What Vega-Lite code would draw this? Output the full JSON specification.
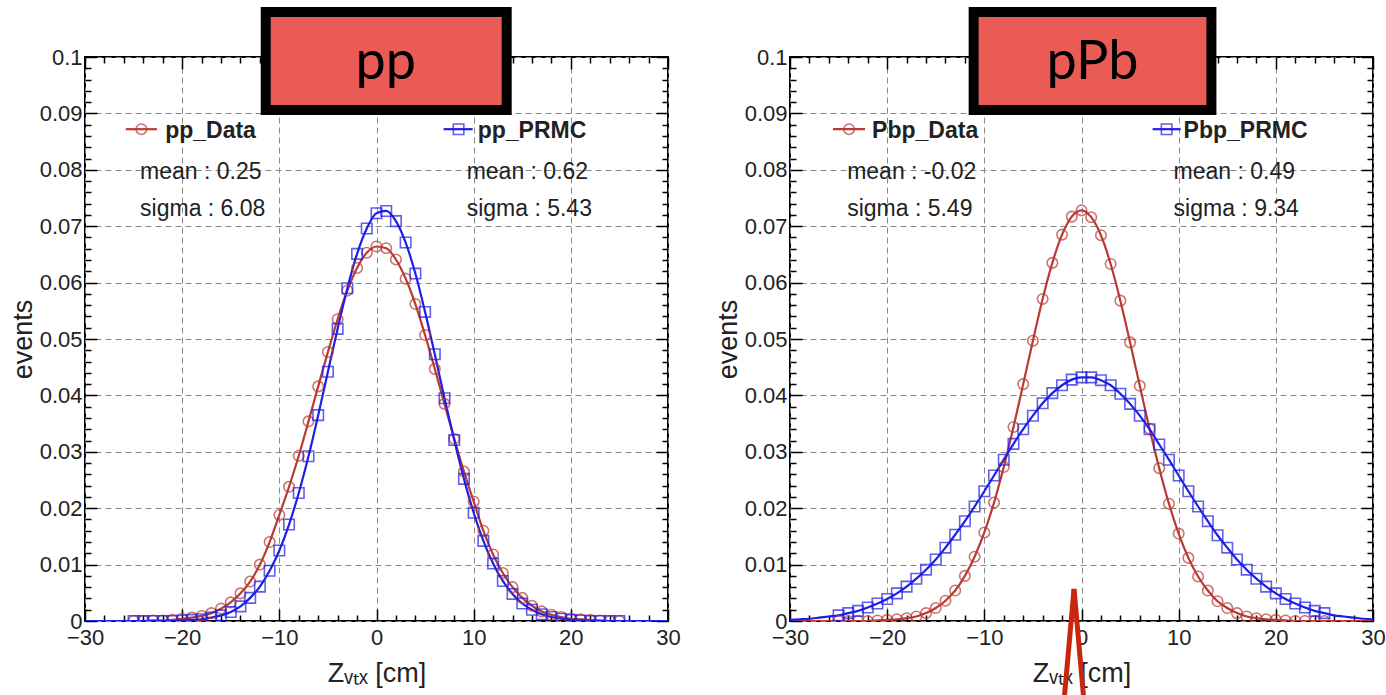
{
  "$schema": "https://vega.github.io/schema/vega-lite/v6.json",
  "padding": {"left": 8, "top": 5, "right": 5, "bottom": 0},
  "background": "white",
  "config": {"view": {"stroke": "black", "strokeWidth": 2}, "font": "Liberation Sans"},
  "spacing": 31,
  "datasets": {
    "pp": [
      {"s":"pp_Data","x":-30,"y":0},{"s":"pp_Data","x":-29,"y":0},{"s":"pp_Data","x":-28,"y":0},{"s":"pp_Data","x":-27,"y":0},{"s":"pp_Data","x":-26,"y":0},{"s":"pp_Data","x":-25,"y":0},{"s":"pp_Data","x":-24,"y":0},{"s":"pp_Data","x":-23,"y":0.0001},{"s":"pp_Data","x":-22,"y":0.0001},{"s":"pp_Data","x":-21,"y":0.0002},{"s":"pp_Data","x":-20,"y":0.0004},{"s":"pp_Data","x":-19,"y":0.0006},{"s":"pp_Data","x":-18,"y":0.0009},{"s":"pp_Data","x":-17,"y":0.0014},{"s":"pp_Data","x":-16,"y":0.0022},{"s":"pp_Data","x":-15,"y":0.0033},{"s":"pp_Data","x":-14,"y":0.0049},{"s":"pp_Data","x":-13,"y":0.0070},{"s":"pp_Data","x":-12,"y":0.0100},{"s":"pp_Data","x":-11,"y":0.0140},{"s":"pp_Data","x":-10,"y":0.0188},{"s":"pp_Data","x":-9,"y":0.0238},{"s":"pp_Data","x":-8,"y":0.0293},{"s":"pp_Data","x":-7,"y":0.0354},{"s":"pp_Data","x":-6,"y":0.0416},{"s":"pp_Data","x":-5,"y":0.0477},{"s":"pp_Data","x":-4,"y":0.0535},{"s":"pp_Data","x":-3,"y":0.0586},{"s":"pp_Data","x":-2,"y":0.0626},{"s":"pp_Data","x":-1,"y":0.0653},{"s":"pp_Data","x":0,"y":0.0664},{"s":"pp_Data","x":1,"y":0.0661},{"s":"pp_Data","x":2,"y":0.0641},{"s":"pp_Data","x":3,"y":0.0607},{"s":"pp_Data","x":4,"y":0.0562},{"s":"pp_Data","x":5,"y":0.0507},{"s":"pp_Data","x":6,"y":0.0447},{"s":"pp_Data","x":7,"y":0.0385},{"s":"pp_Data","x":8,"y":0.0323},{"s":"pp_Data","x":9,"y":0.0265},{"s":"pp_Data","x":10,"y":0.0212},{"s":"pp_Data","x":11,"y":0.0160},{"s":"pp_Data","x":12,"y":0.0118},{"s":"pp_Data","x":13,"y":0.0085},{"s":"pp_Data","x":14,"y":0.0060},{"s":"pp_Data","x":15,"y":0.0041},{"s":"pp_Data","x":16,"y":0.0027},{"s":"pp_Data","x":17,"y":0.0017},{"s":"pp_Data","x":18,"y":0.0011},{"s":"pp_Data","x":19,"y":0.0007},{"s":"pp_Data","x":20,"y":0.0004},{"s":"pp_Data","x":21,"y":0.0003},{"s":"pp_Data","x":22,"y":0.0002},{"s":"pp_Data","x":23,"y":0.0001},{"s":"pp_Data","x":24,"y":0},{"s":"pp_Data","x":25,"y":0},{"s":"pp_Data","x":26,"y":0},{"s":"pp_Data","x":27,"y":0},{"s":"pp_Data","x":28,"y":0},{"s":"pp_Data","x":29,"y":0},{"s":"pp_Data","x":30,"y":0},
      {"s":"pp_PRMC","x":-30,"y":0},{"s":"pp_PRMC","x":-29,"y":0},{"s":"pp_PRMC","x":-28,"y":0},{"s":"pp_PRMC","x":-27,"y":0},{"s":"pp_PRMC","x":-26,"y":0},{"s":"pp_PRMC","x":-25,"y":0},{"s":"pp_PRMC","x":-24,"y":0},{"s":"pp_PRMC","x":-23,"y":0},{"s":"pp_PRMC","x":-22,"y":0},{"s":"pp_PRMC","x":-21,"y":0},{"s":"pp_PRMC","x":-20,"y":0.0001},{"s":"pp_PRMC","x":-19,"y":0.0002},{"s":"pp_PRMC","x":-18,"y":0.0003},{"s":"pp_PRMC","x":-17,"y":0.0006},{"s":"pp_PRMC","x":-16,"y":0.0010},{"s":"pp_PRMC","x":-15,"y":0.0016},{"s":"pp_PRMC","x":-14,"y":0.0026},{"s":"pp_PRMC","x":-13,"y":0.0041},{"s":"pp_PRMC","x":-12,"y":0.0061},{"s":"pp_PRMC","x":-11,"y":0.0089},{"s":"pp_PRMC","x":-10,"y":0.0125},{"s":"pp_PRMC","x":-9,"y":0.0171},{"s":"pp_PRMC","x":-8,"y":0.0227},{"s":"pp_PRMC","x":-7,"y":0.0292},{"s":"pp_PRMC","x":-6,"y":0.0365},{"s":"pp_PRMC","x":-5,"y":0.0442},{"s":"pp_PRMC","x":-4,"y":0.0518},{"s":"pp_PRMC","x":-3,"y":0.0590},{"s":"pp_PRMC","x":-2,"y":0.0651},{"s":"pp_PRMC","x":-1,"y":0.0696},{"s":"pp_PRMC","x":0,"y":0.0723},{"s":"pp_PRMC","x":1,"y":0.0727},{"s":"pp_PRMC","x":2,"y":0.0709},{"s":"pp_PRMC","x":3,"y":0.0671},{"s":"pp_PRMC","x":4,"y":0.0616},{"s":"pp_PRMC","x":5,"y":0.0548},{"s":"pp_PRMC","x":6,"y":0.0473},{"s":"pp_PRMC","x":7,"y":0.0395},{"s":"pp_PRMC","x":8,"y":0.0321},{"s":"pp_PRMC","x":9,"y":0.0252},{"s":"pp_PRMC","x":10,"y":0.0192},{"s":"pp_PRMC","x":11,"y":0.0142},{"s":"pp_PRMC","x":12,"y":0.0102},{"s":"pp_PRMC","x":13,"y":0.0071},{"s":"pp_PRMC","x":14,"y":0.0048},{"s":"pp_PRMC","x":15,"y":0.0031},{"s":"pp_PRMC","x":16,"y":0.0020},{"s":"pp_PRMC","x":17,"y":0.0012},{"s":"pp_PRMC","x":18,"y":0.0007},{"s":"pp_PRMC","x":19,"y":0.0004},{"s":"pp_PRMC","x":20,"y":0.0002},{"s":"pp_PRMC","x":21,"y":0.0001},{"s":"pp_PRMC","x":22,"y":0},{"s":"pp_PRMC","x":23,"y":0},{"s":"pp_PRMC","x":24,"y":0},{"s":"pp_PRMC","x":25,"y":0},{"s":"pp_PRMC","x":26,"y":0},{"s":"pp_PRMC","x":27,"y":0},{"s":"pp_PRMC","x":28,"y":0},{"s":"pp_PRMC","x":29,"y":0},{"s":"pp_PRMC","x":30,"y":0}
    ],
    "ppb": [
      {"s":"Pbp_Data","x":-30,"y":0},{"s":"Pbp_Data","x":-29,"y":0},{"s":"Pbp_Data","x":-28,"y":0},{"s":"Pbp_Data","x":-27,"y":0},{"s":"Pbp_Data","x":-26,"y":0},{"s":"Pbp_Data","x":-25,"y":0},{"s":"Pbp_Data","x":-24,"y":0},{"s":"Pbp_Data","x":-23,"y":0},{"s":"Pbp_Data","x":-22,"y":0},{"s":"Pbp_Data","x":-21,"y":0.0001},{"s":"Pbp_Data","x":-20,"y":0.0002},{"s":"Pbp_Data","x":-19,"y":0.0003},{"s":"Pbp_Data","x":-18,"y":0.0005},{"s":"Pbp_Data","x":-17,"y":0.0008},{"s":"Pbp_Data","x":-16,"y":0.0014},{"s":"Pbp_Data","x":-15,"y":0.0023},{"s":"Pbp_Data","x":-14,"y":0.0036},{"s":"Pbp_Data","x":-13,"y":0.0054},{"s":"Pbp_Data","x":-12,"y":0.0080},{"s":"Pbp_Data","x":-11,"y":0.0114},{"s":"Pbp_Data","x":-10,"y":0.0157},{"s":"Pbp_Data","x":-9,"y":0.0210},{"s":"Pbp_Data","x":-8,"y":0.0273},{"s":"Pbp_Data","x":-7,"y":0.0344},{"s":"Pbp_Data","x":-6,"y":0.0420},{"s":"Pbp_Data","x":-5,"y":0.0497},{"s":"Pbp_Data","x":-4,"y":0.0571},{"s":"Pbp_Data","x":-3,"y":0.0635},{"s":"Pbp_Data","x":-2,"y":0.0685},{"s":"Pbp_Data","x":-1,"y":0.0717},{"s":"Pbp_Data","x":0,"y":0.0728},{"s":"Pbp_Data","x":1,"y":0.0716},{"s":"Pbp_Data","x":2,"y":0.0684},{"s":"Pbp_Data","x":3,"y":0.0633},{"s":"Pbp_Data","x":4,"y":0.0568},{"s":"Pbp_Data","x":5,"y":0.0494},{"s":"Pbp_Data","x":6,"y":0.0417},{"s":"Pbp_Data","x":7,"y":0.0341},{"s":"Pbp_Data","x":8,"y":0.0271},{"s":"Pbp_Data","x":9,"y":0.0208},{"s":"Pbp_Data","x":10,"y":0.0155},{"s":"Pbp_Data","x":11,"y":0.0112},{"s":"Pbp_Data","x":12,"y":0.0079},{"s":"Pbp_Data","x":13,"y":0.0054},{"s":"Pbp_Data","x":14,"y":0.0035},{"s":"Pbp_Data","x":15,"y":0.0023},{"s":"Pbp_Data","x":16,"y":0.0014},{"s":"Pbp_Data","x":17,"y":0.0008},{"s":"Pbp_Data","x":18,"y":0.0005},{"s":"Pbp_Data","x":19,"y":0.0003},{"s":"Pbp_Data","x":20,"y":0.0002},{"s":"Pbp_Data","x":21,"y":0.0001},{"s":"Pbp_Data","x":22,"y":0},{"s":"Pbp_Data","x":23,"y":0},{"s":"Pbp_Data","x":24,"y":0},{"s":"Pbp_Data","x":25,"y":0},{"s":"Pbp_Data","x":26,"y":0},{"s":"Pbp_Data","x":27,"y":0},{"s":"Pbp_Data","x":28,"y":0},{"s":"Pbp_Data","x":29,"y":0},{"s":"Pbp_Data","x":30,"y":0},
      {"s":"Pbp_PRMC","x":-30,"y":0.0002},{"s":"Pbp_PRMC","x":-29,"y":0.0003},{"s":"Pbp_PRMC","x":-28,"y":0.0004},{"s":"Pbp_PRMC","x":-27,"y":0.0006},{"s":"Pbp_PRMC","x":-26,"y":0.0008},{"s":"Pbp_PRMC","x":-25,"y":0.0010},{"s":"Pbp_PRMC","x":-24,"y":0.0014},{"s":"Pbp_PRMC","x":-23,"y":0.0018},{"s":"Pbp_PRMC","x":-22,"y":0.0024},{"s":"Pbp_PRMC","x":-21,"y":0.0031},{"s":"Pbp_PRMC","x":-20,"y":0.0039},{"s":"Pbp_PRMC","x":-19,"y":0.0049},{"s":"Pbp_PRMC","x":-18,"y":0.0061},{"s":"Pbp_PRMC","x":-17,"y":0.0075},{"s":"Pbp_PRMC","x":-16,"y":0.0091},{"s":"Pbp_PRMC","x":-15,"y":0.0109},{"s":"Pbp_PRMC","x":-14,"y":0.0130},{"s":"Pbp_PRMC","x":-13,"y":0.0153},{"s":"Pbp_PRMC","x":-12,"y":0.0177},{"s":"Pbp_PRMC","x":-11,"y":0.0203},{"s":"Pbp_PRMC","x":-10,"y":0.0230},{"s":"Pbp_PRMC","x":-9,"y":0.0258},{"s":"Pbp_PRMC","x":-8,"y":0.0286},{"s":"Pbp_PRMC","x":-7,"y":0.0314},{"s":"Pbp_PRMC","x":-6,"y":0.0340},{"s":"Pbp_PRMC","x":-5,"y":0.0364},{"s":"Pbp_PRMC","x":-4,"y":0.0386},{"s":"Pbp_PRMC","x":-3,"y":0.0404},{"s":"Pbp_PRMC","x":-2,"y":0.0418},{"s":"Pbp_PRMC","x":-1,"y":0.0428},{"s":"Pbp_PRMC","x":0,"y":0.0432},{"s":"Pbp_PRMC","x":1,"y":0.0432},{"s":"Pbp_PRMC","x":2,"y":0.0427},{"s":"Pbp_PRMC","x":3,"y":0.0418},{"s":"Pbp_PRMC","x":4,"y":0.0403},{"s":"Pbp_PRMC","x":5,"y":0.0385},{"s":"Pbp_PRMC","x":6,"y":0.0364},{"s":"Pbp_PRMC","x":7,"y":0.0340},{"s":"Pbp_PRMC","x":8,"y":0.0313},{"s":"Pbp_PRMC","x":9,"y":0.0286},{"s":"Pbp_PRMC","x":10,"y":0.0258},{"s":"Pbp_PRMC","x":11,"y":0.0230},{"s":"Pbp_PRMC","x":12,"y":0.0203},{"s":"Pbp_PRMC","x":13,"y":0.0177},{"s":"Pbp_PRMC","x":14,"y":0.0152},{"s":"Pbp_PRMC","x":15,"y":0.0130},{"s":"Pbp_PRMC","x":16,"y":0.0109},{"s":"Pbp_PRMC","x":17,"y":0.0091},{"s":"Pbp_PRMC","x":18,"y":0.0075},{"s":"Pbp_PRMC","x":19,"y":0.0061},{"s":"Pbp_PRMC","x":20,"y":0.0049},{"s":"Pbp_PRMC","x":21,"y":0.0039},{"s":"Pbp_PRMC","x":22,"y":0.0031},{"s":"Pbp_PRMC","x":23,"y":0.0024},{"s":"Pbp_PRMC","x":24,"y":0.0018},{"s":"Pbp_PRMC","x":25,"y":0.0014},{"s":"Pbp_PRMC","x":26,"y":0.0010},{"s":"Pbp_PRMC","x":27,"y":0.0008},{"s":"Pbp_PRMC","x":28,"y":0.0006},{"s":"Pbp_PRMC","x":29,"y":0.0004},{"s":"Pbp_PRMC","x":30,"y":0.0003}
    ]
  },
  "hconcat": [
    {
      "width": 583, "height": 564,
      "data": {"name": "pp"},
      "layer": [
        {
          "mark": {"type": "line", "interpolate": "monotone", "strokeWidth": 2.2, "clip": true},
          "encoding": {
            "x": {"field": "x", "type": "quantitative", "scale": {"domain": [-30, 30], "nice": false, "zero": false},
              "axis": {"orient": "bottom", "values": [-30,-28,-26,-24,-22,-20,-18,-16,-14,-12,-10,-8,-6,-4,-2,0,2,4,6,8,10,12,14,16,18,20,22,24,26,28,30],
                "labelExpr": "datum.value % 10 === 0 ? format(datum.value, 'd') : ''",
                "tickSize": {"condition": {"test": "datum.value % 10 === 0", "value": -12}, "value": -6},
                "tickColor": "black", "tickWidth": 1.5, "domain": false,
                "grid": true, "gridColor": "#888888", "gridDash": [6, 4], "gridWidth": 1,
                "gridOpacity": {"condition": {"test": "datum.value % 10 === 0", "value": 1}, "value": 0},
                "labelOverlap": false, "labelFlush": false, "labelBound": false,
                "labelFont": "Liberation Sans", "labelFontSize": 22, "labelColor": "#222222", "labelPadding": 18,
                "title": "Zᵥₜₓ [cm]", "titleFont": "Liberation Sans", "titleFontSize": 27, "titleFontWeight": "normal", "titleColor": "#222222", "titlePadding": 6}},
            "y": {"field": "y", "type": "quantitative", "scale": {"domain": [0, 0.1], "nice": false, "zero": false},
              "axis": {"orient": "left", "values": [0,0.002,0.004,0.006,0.008,0.01,0.012,0.014,0.016,0.018,0.02,0.022,0.024,0.026,0.028,0.03,0.032,0.034,0.036,0.038,0.04,0.042,0.044,0.046,0.048,0.05,0.052,0.054,0.056,0.058,0.06,0.062,0.064,0.066,0.068,0.07,0.072,0.074,0.076,0.078,0.08,0.082,0.084,0.086,0.088,0.09,0.092,0.094,0.096,0.098,0.1],
                "labelExpr": "abs(datum.value*100 - round(datum.value*100)) < 0.0001 ? format(datum.value, '~g') : ''",
                "tickSize": {"condition": {"test": "abs(datum.value*100 - round(datum.value*100)) < 0.0001", "value": -12}, "value": -6},
                "tickColor": "black", "tickWidth": 1.5, "domain": false,
                "grid": true, "gridColor": "#888888", "gridDash": [6, 4], "gridWidth": 1,
                "gridOpacity": {"condition": {"test": "abs(datum.value*100 - round(datum.value*100)) < 0.0001", "value": 1}, "value": 0},
                "labelOverlap": false, "labelFlush": false, "labelBound": false,
                "labelFont": "Liberation Sans", "labelFontSize": 22, "labelColor": "#222222", "labelPadding": 15,
                "title": "events", "titleFont": "Liberation Sans", "titleFontSize": 27, "titleFontWeight": "normal", "titleColor": "#222222", "titlePadding": 2}},
            "color": {"field": "s", "type": "nominal", "scale": {"domain": ["pp_Data", "pp_PRMC", "Pbp_Data", "Pbp_PRMC"], "range": ["#B83A33", "#1E1EE6", "#B83A33", "#1E1EE6"]}, "legend": null}
          }
        },
        {
          "transform": [{"filter": "abs(datum.x) <= 25"}],
          "mark": {"type": "point", "filled": false, "strokeWidth": 1.6, "size": 110, "clip": true},
          "encoding": {
            "x": {"field": "x", "type": "quantitative", "scale": {"domain": [-30, 30], "nice": false, "zero": false},
              "axis": {"orient": "top", "values": [-30,-28,-26,-24,-22,-20,-18,-16,-14,-12,-10,-8,-6,-4,-2,0,2,4,6,8,10,12,14,16,18,20,22,24,26,28,30], "labels": false, "title": null, "grid": false, "domain": false,
                "tickSize": {"condition": {"test": "datum.value % 10 === 0", "value": -12}, "value": -6}, "tickColor": "black", "tickWidth": 1.5}},
            "y": {"field": "y", "type": "quantitative", "scale": {"domain": [0, 0.1], "nice": false, "zero": false},
              "axis": {"orient": "right", "values": [0,0.002,0.004,0.006,0.008,0.01,0.012,0.014,0.016,0.018,0.02,0.022,0.024,0.026,0.028,0.03,0.032,0.034,0.036,0.038,0.04,0.042,0.044,0.046,0.048,0.05,0.052,0.054,0.056,0.058,0.06,0.062,0.064,0.066,0.068,0.07,0.072,0.074,0.076,0.078,0.08,0.082,0.084,0.086,0.088,0.09,0.092,0.094,0.096,0.098,0.1], "labels": false, "title": null, "grid": false, "domain": false,
                "tickSize": {"condition": {"test": "abs(datum.value*100 - round(datum.value*100)) < 0.0001", "value": -12}, "value": -6}, "tickColor": "black", "tickWidth": 1.5}},
            "color": {"field": "s", "type": "nominal", "scale": {"domain": ["pp_Data", "pp_PRMC", "Pbp_Data", "Pbp_PRMC"], "range": ["#B83A33", "#1E1EE6", "#B83A33", "#1E1EE6"]}, "legend": null},
            "shape": {"field": "s", "type": "nominal", "scale": {"domain": ["pp_Data", "pp_PRMC", "Pbp_Data", "Pbp_PRMC"], "range": ["circle", "square", "circle", "square"]}, "legend": null}
          }
        },
        {"data": {"values": [{}]}, "mark": {"type": "rule", "color": "#B83A33", "strokeWidth": 2.2},
          "encoding": {"x": {"datum": -25.8, "type": "quantitative", "axis": null}, "x2": {"datum": -22.6}, "y": {"datum": 0.0872, "type": "quantitative", "axis": null}}},
        {"data": {"values": [{}]}, "mark": {"type": "point", "shape": "circle", "filled": false, "color": "#B83A33", "strokeWidth": 1.6, "size": 110},
          "encoding": {"x": {"datum": -24.2, "type": "quantitative", "axis": null}, "y": {"datum": 0.0872, "type": "quantitative", "axis": null}}},
        {"data": {"values": [{}]}, "mark": {"type": "text", "text": "pp_Data", "align": "left", "baseline": "alphabetic", "font": "Liberation Sans", "fontSize": 23, "fontWeight": "bold", "color": "#222222"},
          "encoding": {"x": {"datum": -21.75, "type": "quantitative", "axis": null}, "y": {"datum": 0.0857, "type": "quantitative", "axis": null}}},
        {"data": {"values": [{}]}, "mark": {"type": "text", "text": ["mean : 0.25", "sigma : 6.08"], "lineHeight": 37, "align": "left", "baseline": "alphabetic", "font": "Liberation Sans", "fontSize": 23, "color": "#222222"},
          "encoding": {"x": {"datum": -24.33, "type": "quantitative", "axis": null}, "y": {"datum": 0.0783, "type": "quantitative", "axis": null}}},
        {"data": {"values": [{}]}, "mark": {"type": "rule", "color": "#1E1EE6", "strokeWidth": 2.2},
          "encoding": {"x": {"datum": 6.9, "type": "quantitative", "axis": null}, "x2": {"datum": 9.9}, "y": {"datum": 0.0872, "type": "quantitative", "axis": null}}},
        {"data": {"values": [{}]}, "mark": {"type": "point", "shape": "square", "filled": false, "color": "#1E1EE6", "strokeWidth": 1.6, "size": 110},
          "encoding": {"x": {"datum": 8.45, "type": "quantitative", "axis": null}, "y": {"datum": 0.0872, "type": "quantitative", "axis": null}}},
        {"data": {"values": [{}]}, "mark": {"type": "text", "text": "pp_PRMC", "align": "left", "baseline": "alphabetic", "font": "Liberation Sans", "fontSize": 23, "fontWeight": "bold", "color": "#222222"},
          "encoding": {"x": {"datum": 10.41, "type": "quantitative", "axis": null}, "y": {"datum": 0.0857, "type": "quantitative", "axis": null}}},
        {"data": {"values": [{}]}, "mark": {"type": "text", "text": ["mean : 0.62", "sigma : 5.43"], "lineHeight": 37, "align": "left", "baseline": "alphabetic", "font": "Liberation Sans", "fontSize": 23, "color": "#222222"},
          "encoding": {"x": {"datum": 9.28, "type": "quantitative", "axis": null}, "y": {"datum": 0.0783, "type": "quantitative", "axis": null}}},
        {"data": {"values": [{}]}, "mark": {"type": "rect", "fill": "#EB5B56", "stroke": "black", "strokeWidth": 10, "clip": false},
          "encoding": {"x": {"datum": -11.4, "type": "quantitative", "axis": null}, "x2": {"datum": 13.4}, "y": {"datum": 0.10798, "type": "quantitative", "axis": null}, "y2": {"datum": 0.0906}}},
        {"data": {"values": [{}]}, "mark": {"type": "text", "text": "pp", "align": "center", "baseline": "alphabetic", "font": "Lato", "fontSize": 54, "color": "black"},
          "encoding": {"x": {"datum": 0.95, "type": "quantitative", "axis": null}, "y": {"datum": 0.0961, "type": "quantitative", "axis": null}}}
      ],
      "resolve": {"axis": {"x": "independent", "y": "independent"}}
    },
    {
      "width": 583, "height": 564,
      "data": {"name": "ppb"},
      "layer": [
        {
          "mark": {"type": "line", "interpolate": "monotone", "strokeWidth": 2.2, "clip": true},
          "encoding": {
            "x": {"field": "x", "type": "quantitative", "scale": {"domain": [-30, 30], "nice": false, "zero": false},
              "axis": {"orient": "bottom", "values": [-30,-28,-26,-24,-22,-20,-18,-16,-14,-12,-10,-8,-6,-4,-2,0,2,4,6,8,10,12,14,16,18,20,22,24,26,28,30],
                "labelExpr": "datum.value % 10 === 0 ? format(datum.value, 'd') : ''",
                "tickSize": {"condition": {"test": "datum.value % 10 === 0", "value": -12}, "value": -6},
                "tickColor": "black", "tickWidth": 1.5, "domain": false,
                "grid": true, "gridColor": "#888888", "gridDash": [6, 4], "gridWidth": 1,
                "gridOpacity": {"condition": {"test": "datum.value % 10 === 0", "value": 1}, "value": 0},
                "labelOverlap": false, "labelFlush": false, "labelBound": false,
                "labelFont": "Liberation Sans", "labelFontSize": 22, "labelColor": "#222222", "labelPadding": 18,
                "title": "Zᵥₜₓ [cm]", "titleFont": "Liberation Sans", "titleFontSize": 27, "titleFontWeight": "normal", "titleColor": "#222222", "titlePadding": 6}},
            "y": {"field": "y", "type": "quantitative", "scale": {"domain": [0, 0.1], "nice": false, "zero": false},
              "axis": {"orient": "left", "values": [0,0.002,0.004,0.006,0.008,0.01,0.012,0.014,0.016,0.018,0.02,0.022,0.024,0.026,0.028,0.03,0.032,0.034,0.036,0.038,0.04,0.042,0.044,0.046,0.048,0.05,0.052,0.054,0.056,0.058,0.06,0.062,0.064,0.066,0.068,0.07,0.072,0.074,0.076,0.078,0.08,0.082,0.084,0.086,0.088,0.09,0.092,0.094,0.096,0.098,0.1],
                "labelExpr": "abs(datum.value*100 - round(datum.value*100)) < 0.0001 ? format(datum.value, '~g') : ''",
                "tickSize": {"condition": {"test": "abs(datum.value*100 - round(datum.value*100)) < 0.0001", "value": -12}, "value": -6},
                "tickColor": "black", "tickWidth": 1.5, "domain": false,
                "grid": true, "gridColor": "#888888", "gridDash": [6, 4], "gridWidth": 1,
                "gridOpacity": {"condition": {"test": "abs(datum.value*100 - round(datum.value*100)) < 0.0001", "value": 1}, "value": 0},
                "labelOverlap": false, "labelFlush": false, "labelBound": false,
                "labelFont": "Liberation Sans", "labelFontSize": 22, "labelColor": "#222222", "labelPadding": 15,
                "title": "events", "titleFont": "Liberation Sans", "titleFontSize": 27, "titleFontWeight": "normal", "titleColor": "#222222", "titlePadding": 2}},
            "color": {"field": "s", "type": "nominal", "scale": {"domain": ["pp_Data", "pp_PRMC", "Pbp_Data", "Pbp_PRMC"], "range": ["#B83A33", "#1E1EE6", "#B83A33", "#1E1EE6"]}, "legend": null}
          }
        },
        {
          "transform": [{"filter": "abs(datum.x) <= 25"}],
          "mark": {"type": "point", "filled": false, "strokeWidth": 1.6, "size": 110, "clip": true},
          "encoding": {
            "x": {"field": "x", "type": "quantitative", "scale": {"domain": [-30, 30], "nice": false, "zero": false},
              "axis": {"orient": "top", "values": [-30,-28,-26,-24,-22,-20,-18,-16,-14,-12,-10,-8,-6,-4,-2,0,2,4,6,8,10,12,14,16,18,20,22,24,26,28,30], "labels": false, "title": null, "grid": false, "domain": false,
                "tickSize": {"condition": {"test": "datum.value % 10 === 0", "value": -12}, "value": -6}, "tickColor": "black", "tickWidth": 1.5}},
            "y": {"field": "y", "type": "quantitative", "scale": {"domain": [0, 0.1], "nice": false, "zero": false},
              "axis": {"orient": "right", "values": [0,0.002,0.004,0.006,0.008,0.01,0.012,0.014,0.016,0.018,0.02,0.022,0.024,0.026,0.028,0.03,0.032,0.034,0.036,0.038,0.04,0.042,0.044,0.046,0.048,0.05,0.052,0.054,0.056,0.058,0.06,0.062,0.064,0.066,0.068,0.07,0.072,0.074,0.076,0.078,0.08,0.082,0.084,0.086,0.088,0.09,0.092,0.094,0.096,0.098,0.1], "labels": false, "title": null, "grid": false, "domain": false,
                "tickSize": {"condition": {"test": "abs(datum.value*100 - round(datum.value*100)) < 0.0001", "value": -12}, "value": -6}, "tickColor": "black", "tickWidth": 1.5}},
            "color": {"field": "s", "type": "nominal", "scale": {"domain": ["pp_Data", "pp_PRMC", "Pbp_Data", "Pbp_PRMC"], "range": ["#B83A33", "#1E1EE6", "#B83A33", "#1E1EE6"]}, "legend": null},
            "shape": {"field": "s", "type": "nominal", "scale": {"domain": ["pp_Data", "pp_PRMC", "Pbp_Data", "Pbp_PRMC"], "range": ["circle", "square", "circle", "square"]}, "legend": null}
          }
        },
        {"data": {"values": [{}]}, "mark": {"type": "rule", "color": "#B83A33", "strokeWidth": 2.2},
          "encoding": {"x": {"datum": -25.57, "type": "quantitative", "axis": null}, "x2": {"datum": -22.27}, "y": {"datum": 0.0872, "type": "quantitative", "axis": null}}},
        {"data": {"values": [{}]}, "mark": {"type": "point", "shape": "circle", "filled": false, "color": "#B83A33", "strokeWidth": 1.6, "size": 110},
          "encoding": {"x": {"datum": -23.92, "type": "quantitative", "axis": null}, "y": {"datum": 0.0872, "type": "quantitative", "axis": null}}},
        {"data": {"values": [{}]}, "mark": {"type": "text", "text": "Pbp_Data", "align": "left", "baseline": "alphabetic", "font": "Liberation Sans", "fontSize": 23, "fontWeight": "bold", "color": "#222222"},
          "encoding": {"x": {"datum": -21.55, "type": "quantitative", "axis": null}, "y": {"datum": 0.0857, "type": "quantitative", "axis": null}}},
        {"data": {"values": [{}]}, "mark": {"type": "text", "text": ["mean : -0.02", "sigma : 5.49"], "lineHeight": 37, "align": "left", "baseline": "alphabetic", "font": "Liberation Sans", "fontSize": 23, "color": "#222222"},
          "encoding": {"x": {"datum": -24.12, "type": "quantitative", "axis": null}, "y": {"datum": 0.0783, "type": "quantitative", "axis": null}}},
        {"data": {"values": [{}]}, "mark": {"type": "rule", "color": "#1E1EE6", "strokeWidth": 2.2},
          "encoding": {"x": {"datum": 7.32, "type": "quantitative", "axis": null}, "x2": {"datum": 10.2}, "y": {"datum": 0.0872, "type": "quantitative", "axis": null}}},
        {"data": {"values": [{}]}, "mark": {"type": "point", "shape": "square", "filled": false, "color": "#1E1EE6", "strokeWidth": 1.6, "size": 110},
          "encoding": {"x": {"datum": 8.76, "type": "quantitative", "axis": null}, "y": {"datum": 0.0872, "type": "quantitative", "axis": null}}},
        {"data": {"values": [{}]}, "mark": {"type": "text", "text": "Pbp_PRMC", "align": "left", "baseline": "alphabetic", "font": "Liberation Sans", "fontSize": 23, "fontWeight": "bold", "color": "#222222"},
          "encoding": {"x": {"datum": 10.51, "type": "quantitative", "axis": null}, "y": {"datum": 0.0857, "type": "quantitative", "axis": null}}},
        {"data": {"values": [{}]}, "mark": {"type": "text", "text": ["mean : 0.49", "sigma : 9.34"], "lineHeight": 37, "align": "left", "baseline": "alphabetic", "font": "Liberation Sans", "fontSize": 23, "color": "#222222"},
          "encoding": {"x": {"datum": 9.48, "type": "quantitative", "axis": null}, "y": {"datum": 0.0783, "type": "quantitative", "axis": null}}},
        {"data": {"values": [{}]}, "mark": {"type": "rect", "fill": "#EB5B56", "stroke": "black", "strokeWidth": 10, "clip": false},
          "encoding": {"x": {"datum": -11.1, "type": "quantitative", "axis": null}, "x2": {"datum": 13.37}, "y": {"datum": 0.10798, "type": "quantitative", "axis": null}, "y2": {"datum": 0.0906}}},
        {"data": {"values": [{}]}, "mark": {"type": "text", "text": "pPb", "align": "center", "baseline": "alphabetic", "font": "Lato", "fontSize": 54, "color": "black"},
          "encoding": {"x": {"datum": 1.14, "type": "quantitative", "axis": null}, "y": {"datum": 0.0961, "type": "quantitative", "axis": null}}},
        {"data": {"values": [{}]}, "mark": {"type": "rule", "color": "#C8260F", "strokeWidth": 5, "clip": false},
          "encoding": {"x": {"datum": -1.81, "type": "quantitative", "axis": null}, "x2": {"datum": -0.77}, "y": {"datum": -0.0144, "type": "quantitative", "axis": null}, "y2": {"datum": 0.0057}}},
        {"data": {"values": [{}]}, "mark": {"type": "rule", "color": "#C8260F", "strokeWidth": 5, "clip": false},
          "encoding": {"x": {"datum": -0.77, "type": "quantitative", "axis": null}, "x2": {"datum": 0.26}, "y": {"datum": 0.0057, "type": "quantitative", "axis": null}, "y2": {"datum": -0.0144}}}
      ],
      "resolve": {"axis": {"x": "independent", "y": "independent"}}
    }
  ]
}
